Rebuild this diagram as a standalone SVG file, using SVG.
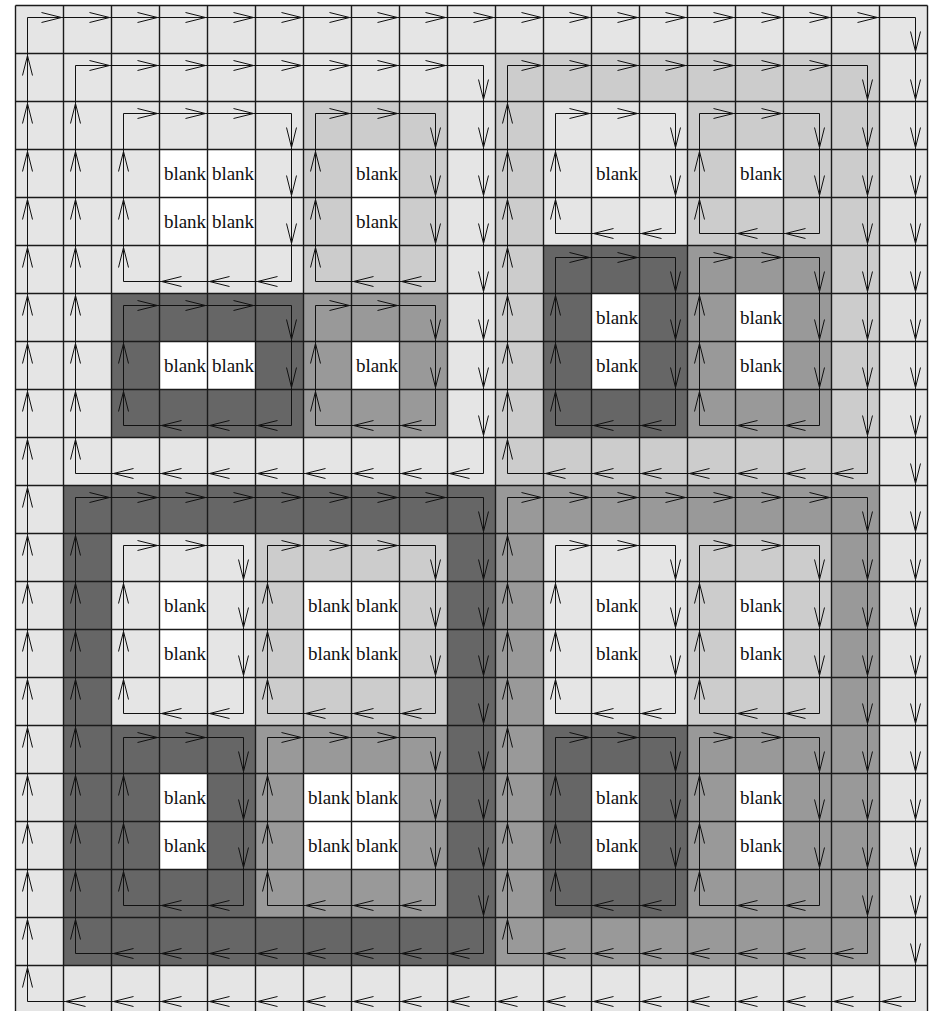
<svg xmlns="http://www.w3.org/2000/svg" width="932" height="1011" viewBox="0 0 932 1011">
<style>
.c1{fill:#e5e5e5}.c2{fill:#cccccc}.c3{fill:#999999}.c4{fill:#666666}
.bk rect{fill:#ffffff}
.bk text{font-family:"Liberation Serif","Times New Roman",serif;font-size:19px;fill:#111;text-anchor:middle}
.grid{fill:none;stroke:#1a1a1a;stroke-width:1.4}
.s{fill:none;stroke:#111;stroke-width:1;marker-mid:url(#ah)}
</style>
<defs>
<marker id="ah" markerUnits="userSpaceOnUse" viewBox="-22 -7 24 14" markerWidth="24" markerHeight="14" refX="0" refY="0" orient="auto" overflow="visible">
<path d="M-20,-5L0,0L-20,5" fill="none" stroke="#111" stroke-width="1"/>
</marker>
</defs>
<rect x="0" y="0" width="932" height="1011" fill="#ffffff"/>
<g id="fills">
<rect class="c1" x="15.5" y="5.5" width="912" height="1008"/>
<rect class="c2" x="495.5" y="53.5" width="384" height="432"/>
<rect class="c4" x="63.5" y="485.5" width="432" height="480"/>
<rect class="c3" x="495.5" y="485.5" width="384" height="480"/>
<rect class="c1" x="111.5" y="101.5" width="192" height="192"/>
<rect class="c2" x="303.5" y="101.5" width="144" height="192"/>
<rect class="c4" x="111.5" y="293.5" width="192" height="144"/>
<rect class="c3" x="303.5" y="293.5" width="144" height="144"/>
<rect class="c1" x="543.5" y="101.5" width="144" height="144"/>
<rect class="c2" x="687.5" y="101.5" width="144" height="144"/>
<rect class="c4" x="543.5" y="245.5" width="144" height="192"/>
<rect class="c3" x="687.5" y="245.5" width="144" height="192"/>
<rect class="c1" x="111.5" y="533.5" width="144" height="192"/>
<rect class="c2" x="255.5" y="533.5" width="192" height="192"/>
<rect class="c4" x="111.5" y="725.5" width="144" height="192"/>
<rect class="c3" x="255.5" y="725.5" width="192" height="192"/>
<rect class="c1" x="543.5" y="533.5" width="144" height="192"/>
<rect class="c2" x="687.5" y="533.5" width="144" height="192"/>
<rect class="c4" x="543.5" y="725.5" width="144" height="192"/>
<rect class="c3" x="687.5" y="725.5" width="144" height="192"/>
</g>
<g id="blanks" class="bk">
<g id="blank-3-3"><rect x="159.5" y="149.5" width="48" height="48"/><text x="185" y="180">blank</text></g>
<g id="blank-3-4"><rect x="207.5" y="149.5" width="48" height="48"/><text x="233" y="180">blank</text></g>
<g id="blank-4-3"><rect x="159.5" y="197.5" width="48" height="48"/><text x="185" y="228">blank</text></g>
<g id="blank-4-4"><rect x="207.5" y="197.5" width="48" height="48"/><text x="233" y="228">blank</text></g>
<g id="blank-3-7"><rect x="351.5" y="149.5" width="48" height="48"/><text x="377" y="180">blank</text></g>
<g id="blank-4-7"><rect x="351.5" y="197.5" width="48" height="48"/><text x="377" y="228">blank</text></g>
<g id="blank-7-3"><rect x="159.5" y="341.5" width="48" height="48"/><text x="185" y="372">blank</text></g>
<g id="blank-7-4"><rect x="207.5" y="341.5" width="48" height="48"/><text x="233" y="372">blank</text></g>
<g id="blank-7-7"><rect x="351.5" y="341.5" width="48" height="48"/><text x="377" y="372">blank</text></g>
<g id="blank-3-12"><rect x="591.5" y="149.5" width="48" height="48"/><text x="617" y="180">blank</text></g>
<g id="blank-3-15"><rect x="735.5" y="149.5" width="48" height="48"/><text x="761" y="180">blank</text></g>
<g id="blank-6-12"><rect x="591.5" y="293.5" width="48" height="48"/><text x="617" y="324">blank</text></g>
<g id="blank-7-12"><rect x="591.5" y="341.5" width="48" height="48"/><text x="617" y="372">blank</text></g>
<g id="blank-6-15"><rect x="735.5" y="293.5" width="48" height="48"/><text x="761" y="324">blank</text></g>
<g id="blank-7-15"><rect x="735.5" y="341.5" width="48" height="48"/><text x="761" y="372">blank</text></g>
<g id="blank-12-3"><rect x="159.5" y="581.5" width="48" height="48"/><text x="185" y="612">blank</text></g>
<g id="blank-13-3"><rect x="159.5" y="629.5" width="48" height="48"/><text x="185" y="660">blank</text></g>
<g id="blank-12-6"><rect x="303.5" y="581.5" width="48" height="48"/><text x="329" y="612">blank</text></g>
<g id="blank-12-7"><rect x="351.5" y="581.5" width="48" height="48"/><text x="377" y="612">blank</text></g>
<g id="blank-13-6"><rect x="303.5" y="629.5" width="48" height="48"/><text x="329" y="660">blank</text></g>
<g id="blank-13-7"><rect x="351.5" y="629.5" width="48" height="48"/><text x="377" y="660">blank</text></g>
<g id="blank-16-3"><rect x="159.5" y="773.5" width="48" height="48"/><text x="185" y="804">blank</text></g>
<g id="blank-17-3"><rect x="159.5" y="821.5" width="48" height="48"/><text x="185" y="852">blank</text></g>
<g id="blank-16-6"><rect x="303.5" y="773.5" width="48" height="48"/><text x="329" y="804">blank</text></g>
<g id="blank-16-7"><rect x="351.5" y="773.5" width="48" height="48"/><text x="377" y="804">blank</text></g>
<g id="blank-17-6"><rect x="303.5" y="821.5" width="48" height="48"/><text x="329" y="852">blank</text></g>
<g id="blank-17-7"><rect x="351.5" y="821.5" width="48" height="48"/><text x="377" y="852">blank</text></g>
<g id="blank-12-12"><rect x="591.5" y="581.5" width="48" height="48"/><text x="617" y="612">blank</text></g>
<g id="blank-13-12"><rect x="591.5" y="629.5" width="48" height="48"/><text x="617" y="660">blank</text></g>
<g id="blank-12-15"><rect x="735.5" y="581.5" width="48" height="48"/><text x="761" y="612">blank</text></g>
<g id="blank-13-15"><rect x="735.5" y="629.5" width="48" height="48"/><text x="761" y="660">blank</text></g>
<g id="blank-16-12"><rect x="591.5" y="773.5" width="48" height="48"/><text x="617" y="804">blank</text></g>
<g id="blank-17-12"><rect x="591.5" y="821.5" width="48" height="48"/><text x="617" y="852">blank</text></g>
<g id="blank-16-15"><rect x="735.5" y="773.5" width="48" height="48"/><text x="761" y="804">blank</text></g>
<g id="blank-17-15"><rect x="735.5" y="821.5" width="48" height="48"/><text x="761" y="852">blank</text></g>
</g>
<g id="grid">
<path class="grid" d="M15.5,5.5V1011M63.5,5.5V1011M111.5,5.5V1011M159.5,5.5V1011M207.5,5.5V1011M255.5,5.5V1011M303.5,5.5V1011M351.5,5.5V1011M399.5,5.5V1011M447.5,5.5V1011M495.5,5.5V1011M543.5,5.5V1011M591.5,5.5V1011M639.5,5.5V1011M687.5,5.5V1011M735.5,5.5V1011M783.5,5.5V1011M831.5,5.5V1011M879.5,5.5V1011M927.5,5.5V1011"/>
<path class="grid" d="M15.5,5.5H927.5M15.5,53.5H927.5M15.5,101.5H927.5M15.5,149.5H927.5M15.5,197.5H927.5M15.5,245.5H927.5M15.5,293.5H927.5M15.5,341.5H927.5M15.5,389.5H927.5M15.5,437.5H927.5M15.5,485.5H927.5M15.5,533.5H927.5M15.5,581.5H927.5M15.5,629.5H927.5M15.5,677.5H927.5M15.5,725.5H927.5M15.5,773.5H927.5M15.5,821.5H927.5M15.5,869.5H927.5M15.5,917.5H927.5M15.5,965.5H927.5"/>
</g>
<g id="connectors">
<g id="loop-outer">
<path class="s" d="M27.5,17.5h34h48h48h48h48h48h48h48h48h48h48h48h48h48h48h48h48h48h38"/>
<path class="s" d="M915.5,17.5v34v48v48v48v48v48v48v48v48v48v48v48v48v48v48v48v48v48v48v48v38"/>
<path class="s" d="M915.5,1001.5h-34h-48h-48h-48h-48h-48h-48h-48h-48h-48h-48h-48h-48h-48h-48h-48h-48h-48h-38"/>
<path class="s" d="M27.5,1001.5v-34v-48v-48v-48v-48v-48v-48v-48v-48v-48v-48v-48v-48v-48v-48v-48v-48v-48v-48v-48v-38"/>
</g>
<g id="loop-tl">
<path class="s" d="M75.5,65.5h34h48h48h48h48h48h48h48h38"/>
<path class="s" d="M483.5,65.5v34v48v48v48v48v48v48v48v38"/>
<path class="s" d="M483.5,473.5h-34h-48h-48h-48h-48h-48h-48h-48h-38"/>
<path class="s" d="M75.5,473.5v-34v-48v-48v-48v-48v-48v-48v-48v-38"/>
</g>
<g id="loop-tr">
<path class="s" d="M507.5,65.5h34h48h48h48h48h48h48h38"/>
<path class="s" d="M867.5,65.5v34v48v48v48v48v48v48v48v38"/>
<path class="s" d="M867.5,473.5h-34h-48h-48h-48h-48h-48h-48h-38"/>
<path class="s" d="M507.5,473.5v-34v-48v-48v-48v-48v-48v-48v-48v-38"/>
</g>
<g id="loop-bl">
<path class="s" d="M75.5,497.5h34h48h48h48h48h48h48h48h38"/>
<path class="s" d="M483.5,497.5v34v48v48v48v48v48v48v48v48v38"/>
<path class="s" d="M483.5,953.5h-34h-48h-48h-48h-48h-48h-48h-48h-38"/>
<path class="s" d="M75.5,953.5v-34v-48v-48v-48v-48v-48v-48v-48v-48v-38"/>
</g>
<g id="loop-br">
<path class="s" d="M507.5,497.5h34h48h48h48h48h48h48h38"/>
<path class="s" d="M867.5,497.5v34v48v48v48v48v48v48v48v48v38"/>
<path class="s" d="M867.5,953.5h-34h-48h-48h-48h-48h-48h-48h-38"/>
<path class="s" d="M507.5,953.5v-34v-48v-48v-48v-48v-48v-48v-48v-48v-38"/>
</g>
<g id="loop-tl-a">
<path class="s" d="M123.5,113.5h34h48h48h38"/>
<path class="s" d="M291.5,113.5v34v48v48v38"/>
<path class="s" d="M291.5,281.5h-34h-48h-48h-38"/>
<path class="s" d="M123.5,281.5v-34v-48v-48v-38"/>
</g>
<g id="loop-tl-b">
<path class="s" d="M315.5,113.5h34h48h38"/>
<path class="s" d="M435.5,113.5v34v48v48v38"/>
<path class="s" d="M435.5,281.5h-34h-48h-38"/>
<path class="s" d="M315.5,281.5v-34v-48v-48v-38"/>
</g>
<g id="loop-tl-c">
<path class="s" d="M123.5,305.5h34h48h48h38"/>
<path class="s" d="M291.5,305.5v34v48v38"/>
<path class="s" d="M291.5,425.5h-34h-48h-48h-38"/>
<path class="s" d="M123.5,425.5v-34v-48v-38"/>
</g>
<g id="loop-tl-d">
<path class="s" d="M315.5,305.5h34h48h38"/>
<path class="s" d="M435.5,305.5v34v48v38"/>
<path class="s" d="M435.5,425.5h-34h-48h-38"/>
<path class="s" d="M315.5,425.5v-34v-48v-38"/>
</g>
<g id="loop-tr-a">
<path class="s" d="M555.5,113.5h34h48h38"/>
<path class="s" d="M675.5,113.5v34v48v38"/>
<path class="s" d="M675.5,233.5h-34h-48h-38"/>
<path class="s" d="M555.5,233.5v-34v-48v-38"/>
</g>
<g id="loop-tr-b">
<path class="s" d="M699.5,113.5h34h48h38"/>
<path class="s" d="M819.5,113.5v34v48v38"/>
<path class="s" d="M819.5,233.5h-34h-48h-38"/>
<path class="s" d="M699.5,233.5v-34v-48v-38"/>
</g>
<g id="loop-tr-c">
<path class="s" d="M555.5,257.5h34h48h38"/>
<path class="s" d="M675.5,257.5v34v48v48v38"/>
<path class="s" d="M675.5,425.5h-34h-48h-38"/>
<path class="s" d="M555.5,425.5v-34v-48v-48v-38"/>
</g>
<g id="loop-tr-d">
<path class="s" d="M699.5,257.5h34h48h38"/>
<path class="s" d="M819.5,257.5v34v48v48v38"/>
<path class="s" d="M819.5,425.5h-34h-48h-38"/>
<path class="s" d="M699.5,425.5v-34v-48v-48v-38"/>
</g>
<g id="loop-bl-a">
<path class="s" d="M123.5,545.5h34h48h38"/>
<path class="s" d="M243.5,545.5v34v48v48v38"/>
<path class="s" d="M243.5,713.5h-34h-48h-38"/>
<path class="s" d="M123.5,713.5v-34v-48v-48v-38"/>
</g>
<g id="loop-bl-b">
<path class="s" d="M267.5,545.5h34h48h48h38"/>
<path class="s" d="M435.5,545.5v34v48v48v38"/>
<path class="s" d="M435.5,713.5h-34h-48h-48h-38"/>
<path class="s" d="M267.5,713.5v-34v-48v-48v-38"/>
</g>
<g id="loop-bl-c">
<path class="s" d="M123.5,737.5h34h48h38"/>
<path class="s" d="M243.5,737.5v34v48v48v38"/>
<path class="s" d="M243.5,905.5h-34h-48h-38"/>
<path class="s" d="M123.5,905.5v-34v-48v-48v-38"/>
</g>
<g id="loop-bl-d">
<path class="s" d="M267.5,737.5h34h48h48h38"/>
<path class="s" d="M435.5,737.5v34v48v48v38"/>
<path class="s" d="M435.5,905.5h-34h-48h-48h-38"/>
<path class="s" d="M267.5,905.5v-34v-48v-48v-38"/>
</g>
<g id="loop-br-a">
<path class="s" d="M555.5,545.5h34h48h38"/>
<path class="s" d="M675.5,545.5v34v48v48v38"/>
<path class="s" d="M675.5,713.5h-34h-48h-38"/>
<path class="s" d="M555.5,713.5v-34v-48v-48v-38"/>
</g>
<g id="loop-br-b">
<path class="s" d="M699.5,545.5h34h48h38"/>
<path class="s" d="M819.5,545.5v34v48v48v38"/>
<path class="s" d="M819.5,713.5h-34h-48h-38"/>
<path class="s" d="M699.5,713.5v-34v-48v-48v-38"/>
</g>
<g id="loop-br-c">
<path class="s" d="M555.5,737.5h34h48h38"/>
<path class="s" d="M675.5,737.5v34v48v48v38"/>
<path class="s" d="M675.5,905.5h-34h-48h-38"/>
<path class="s" d="M555.5,905.5v-34v-48v-48v-38"/>
</g>
<g id="loop-br-d">
<path class="s" d="M699.5,737.5h34h48h38"/>
<path class="s" d="M819.5,737.5v34v48v48v38"/>
<path class="s" d="M819.5,905.5h-34h-48h-38"/>
<path class="s" d="M699.5,905.5v-34v-48v-48v-38"/>
</g>
</g>
</svg>
